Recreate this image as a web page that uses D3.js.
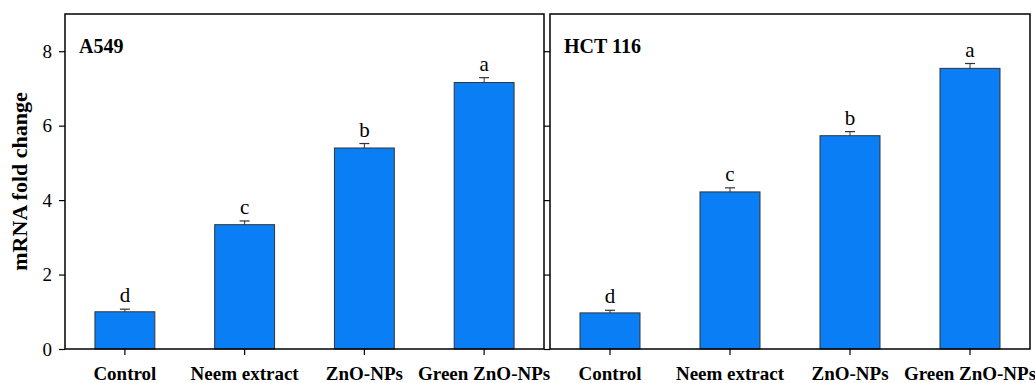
<!DOCTYPE html>
<html>
<head>
<meta charset="utf-8">
<script src="https://cdn.jsdelivr.net/npm/d3@7"></script>
<style>
  html, body { margin: 0; padding: 0; background: #fff; }
  svg { display: block; }
  text { font-family: "Liberation Serif", "Times New Roman", serif; fill: #000; }
</style>
</head>
<body>
<svg id="chart" width="1035" height="383"></svg>
<script>
// Treatment groups shared by both cell lines
const categories = ["Control", "Neem extract", "ZnO-NPs", "Green ZnO-NPs"];

// A549 mRNA fold change (mean, SE) and significance letters
const a549Values = [1.00, 3.34, 5.40, 7.16];
const a549Errors = [0.07, 0.10, 0.12, 0.13];
const a549Letters = ["d", "c", "b", "a"];

// HCT 116 mRNA fold change (mean, SE) and significance letters
const hct116Values = [0.97, 4.22, 5.73, 7.54];
const hct116Errors = [0.07, 0.11, 0.11, 0.13];
const hct116Letters = ["d", "c", "b", "a"];

const panelTitles = ["A549", "HCT 116"];
const yTicks = [0, 2, 4, 6, 8];
const yTitle = "mRNA fold change";

const svg = d3.select("#chart");
const plotTop = 14, plotBottom = 349;
const panels = [
  { x0: 65, x1: 544, title: panelTitles[0], values: a549Values, errors: a549Errors, letters: a549Letters, labels: true },
  { x0: 550, x1: 1030, title: panelTitles[1], values: hct116Values, errors: hct116Errors, letters: hct116Letters, labels: false }
];

const y = d3.scaleLinear().domain([0, 9]).range([plotBottom, plotTop]);
const barFill = "#0a7ff5";
const barStroke = "#333";

panels.forEach(p => {
  const g = svg.append("g");
  const x = d3.scaleBand().domain(categories).range([p.x0, p.x1]).paddingInner(0.5).paddingOuter(0.25);

  // bars
  g.selectAll("rect.bar").data(categories).join("rect")
    .attr("class", "bar")
    .attr("x", d => x(d))
    .attr("width", x.bandwidth())
    .attr("y", (d, i) => y(p.values[i]))
    .attr("height", (d, i) => y(0) - y(p.values[i]))
    .attr("fill", barFill)
    .attr("stroke", barStroke)
    .attr("stroke-width", 1);

  // upper error bars
  const eb = g.selectAll("g.err").data(categories).join("g").attr("class", "err");
  eb.append("line")
    .attr("x1", d => x(d) + x.bandwidth() / 2)
    .attr("x2", d => x(d) + x.bandwidth() / 2)
    .attr("y1", (d, i) => y(p.values[i]))
    .attr("y2", (d, i) => y(p.values[i] + p.errors[i]))
    .attr("stroke", barStroke).attr("stroke-width", 1);
  eb.append("line")
    .attr("x1", d => x(d) + x.bandwidth() / 2 - 5)
    .attr("x2", d => x(d) + x.bandwidth() / 2 + 5)
    .attr("y1", (d, i) => y(p.values[i] + p.errors[i]))
    .attr("y2", (d, i) => y(p.values[i] + p.errors[i]))
    .attr("stroke", barStroke).attr("stroke-width", 1.2);

  // significance letters
  g.selectAll("text.letter").data(categories).join("text")
    .attr("class", "letter")
    .attr("x", d => x(d) + x.bandwidth() / 2)
    .attr("y", (d, i) => y(p.values[i] + p.errors[i]) - 7)
    .attr("text-anchor", "middle")
    .style("font-size", "21px")
    .text((d, i) => p.letters[i]);

  // x axis
  const xAxis = g.append("g")
    .attr("transform", `translate(0,${plotBottom})`)
    .call(d3.axisBottom(x).tickSize(6).tickPadding(12));
  xAxis.select(".domain").remove();
  xAxis.selectAll(".tick line").attr("stroke", "#000").attr("stroke-width", 1.2);
  xAxis.selectAll(".tick text")
    .style("font-size", "19px").style("font-weight", "bold")
    .attr("fill", "#000")
    .attr("dy", "0.68em");

  // y axis (labels only on the first panel)
  const yAxis = g.append("g")
    .attr("transform", `translate(${p.x0},0)`)
    .call(d3.axisLeft(y).tickValues(yTicks).tickSize(6).tickPadding(7)
      .tickFormat(p.labels ? d3.format("d") : () => ""));
  yAxis.select(".domain").remove();
  yAxis.selectAll(".tick line").attr("stroke", "#000").attr("stroke-width", 1.2);
  yAxis.selectAll(".tick text").style("font-size", "19px").attr("fill", "#000");

  // panel frame
  g.append("rect")
    .attr("x", p.x0).attr("y", plotTop)
    .attr("width", p.x1 - p.x0).attr("height", plotBottom - plotTop)
    .attr("fill", "none").attr("stroke", "#000").attr("stroke-width", 1.5);

  // panel title
  g.append("text")
    .attr("x", p.x0 + 14).attr("y", 53)
    .style("font-size", "20px").style("font-weight", "bold")
    .text(p.title);
});

// shared y-axis title
svg.append("text")
  .attr("transform", `translate(27,${(plotTop + plotBottom) / 2}) rotate(-90)`)
  .attr("text-anchor", "middle")
  .style("font-size", "22px").style("font-weight", "bold")
  .text(yTitle);
</script>
</body>
</html>
